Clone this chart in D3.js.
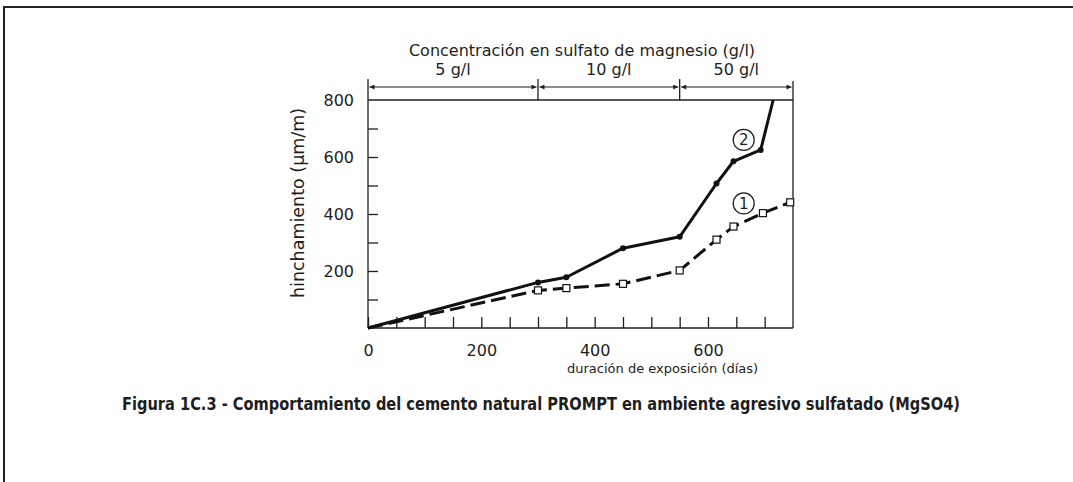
<!DOCTYPE html>
<html lang="es">
<head>
  <meta charset="UTF-8">
  <title>Figura 1C.3</title>
  <script src="https://cdn.jsdelivr.net/npm/d3@7/dist/d3.min.js"></script>
  <style>
    html, body { margin: 0; padding: 0; background: #fff; }
    svg { display: block; }
    text { font-family: "DejaVu Sans", sans-serif; fill: #1e1e1e; }
    .axis text { font-size: 16px; }
    .axis line, .axis path { stroke: #1e1e1e; stroke-width: 1.3; }
  </style>
</head>
<body>
  <svg width="1073" height="482"></svg>
  <script>
    // curve 2 (solid, dots) and curve 1 (dashed, open squares)
    const days2 = [0, 300, 350, 450, 550, 615, 645, 693, 715]
    const swell2 = [0, 160, 178, 280, 320, 507, 585, 625, 800]
    const days1 = [0, 300, 350, 450, 550, 615, 645, 697, 745]
    const swell1 = [0, 132, 140, 155, 202, 310, 356, 403, 441]

    // sulphate concentration stages along the day axis
    const stageBounds = [0, 300, 550, 750]
    const stageLabels = ['5 g/l', '10 g/l', '50 g/l']

    const xTicks = [0, 50, 100, 150, 200, 250, 300, 350, 400, 450, 500, 550, 600, 650, 700]
    const xLabels = [0, 200, 400, 600]
    const yTicks = [100, 200, 300, 400, 500, 600, 700]
    const yLabels = [200, 400, 600, 800]

    const svg = d3.select('svg')
    const plotLeft = 368, plotTop = 100, plotW = 425, plotH = 228

    const x = d3.scaleLinear().domain([0, 750]).range([plotLeft, plotLeft + plotW])
    const y = d3.scaleLinear().domain([0, 800]).range([plotTop + plotH, plotTop])

    // page frame
    svg.append('rect')
      .attr('x', 4).attr('y', 7).attr('width', 1200).attr('height', 600)
      .attr('fill', 'none').attr('stroke', '#222').attr('stroke-width', 2)

    // axes with inward ticks
    svg.append('g')
      .attr('class', 'axis')
      .attr('transform', `translate(0,${y(0)})`)
      .call(d3.axisBottom(x).tickValues(xTicks).tickSizeInner(-11).tickSizeOuter(0).tickPadding(17)
        .tickFormat(d => xLabels.includes(d) ? d : ''))
      .call(g => g.select('.domain').remove())

    svg.append('g')
      .attr('class', 'axis')
      .attr('transform', `translate(${x(0)},0)`)
      .call(d3.axisLeft(y).tickValues(yTicks.concat([800])).tickSizeInner(-10).tickSizeOuter(0).tickPadding(14)
        .tickFormat(d => yLabels.includes(d) ? d : ''))
      .call(g => g.select('.domain').remove())
      .call(g => g.selectAll('.tick').filter(d => d === 800).select('line').remove())

    const frame = svg.append('g').attr('stroke', '#1e1e1e').attr('stroke-width', 1.3)
    frame.append('line').attr('x1', x(0)).attr('x2', x(750)).attr('y1', y(0)).attr('y2', y(0))
    frame.append('line').attr('x1', x(0)).attr('x2', x(750)).attr('y1', y(800)).attr('y2', y(800))
    frame.append('line').attr('x1', x(0)).attr('x2', x(0)).attr('y1', 79).attr('y2', y(0))
    frame.append('line').attr('x1', x(750)).attr('x2', x(750)).attr('y1', 81).attr('y2', y(0))
    stageBounds.slice(1, -1).forEach(d => {
      frame.append('line').attr('x1', x(d)).attr('x2', x(d)).attr('y1', 79).attr('y2', y(800))
    })

    // concentration header with double arrows
    const arrowY = 87
    svg.append('defs').append('marker')
      .attr('id', 'ah').attr('viewBox', '0 0 10 10').attr('refX', 10).attr('refY', 5)
      .attr('markerWidth', 7).attr('markerHeight', 5).attr('markerUnits', 'userSpaceOnUse')
      .attr('orient', 'auto-start-reverse')
      .append('path').attr('d', 'M0,0L10,5L0,10z').attr('fill', '#1e1e1e')

    stageLabels.forEach((lab, i) => {
      const a = stageBounds[i], b = stageBounds[i + 1]
      svg.append('line')
        .attr('x1', x(a) + 1.5).attr('x2', x(b) - 1.5)
        .attr('y1', arrowY).attr('y2', arrowY)
        .attr('stroke', '#1e1e1e').attr('stroke-width', 1.2)
        .attr('marker-start', 'url(#ah)').attr('marker-end', 'url(#ah)')
      svg.append('text')
        .attr('x', x((a + b) / 2)).attr('y', 75)
        .attr('text-anchor', 'middle').attr('font-size', 16)
        .text(lab)
    })

    svg.append('text')
      .attr('x', 582).attr('y', 56)
      .attr('text-anchor', 'middle').attr('font-size', 16)
      .text('Concentración en sulfato de magnesio (g/l)')

    // curves
    const line = d3.line().x(d => x(d[0])).y(d => y(d[1]))
    const pts2 = d3.zip(days2, swell2)
    const pts1 = d3.zip(days1, swell1)

    svg.append('path').datum(pts2)
      .attr('d', line).attr('fill', 'none')
      .attr('stroke', '#111').attr('stroke-width', 3).attr('stroke-linejoin', 'round')

    svg.append('path').datum(pts1)
      .attr('d', line).attr('fill', 'none')
      .attr('stroke', '#111').attr('stroke-width', 3).attr('stroke-dasharray', '15,6')

    svg.selectAll('.dot').data(pts2.slice(1, -1)).enter()
      .append('circle').attr('class', 'dot')
      .attr('cx', d => x(d[0])).attr('cy', d => y(d[1])).attr('r', 3)
      .attr('fill', '#111')

    svg.selectAll('.sq').data(pts1.slice(1)).enter()
      .append('rect').attr('class', 'sq')
      .attr('x', d => x(d[0]) - 3.5).attr('y', d => y(d[1]) - 3.5)
      .attr('width', 7).attr('height', 7)
      .attr('fill', '#fff').attr('stroke', '#111').attr('stroke-width', 1.2)

    // circled curve numbers
    const tags = [{ n: '2', d: 663, v: 660 }, { n: '1', d: 663, v: 437 }]
    tags.forEach(t => {
      svg.append('circle').attr('cx', x(t.d)).attr('cy', y(t.v)).attr('r', 10.5)
        .attr('fill', '#fff').attr('stroke', '#1e1e1e').attr('stroke-width', 1.2)
      svg.append('text').attr('x', x(t.d)).attr('y', y(t.v)).attr('dy', '0.36em')
        .attr('text-anchor', 'middle').attr('font-size', 15).text(t.n)
    })

    // axis titles
    svg.append('text')
      .attr('transform', `translate(304,${(y(0) + y(800)) / 2 - 11}) rotate(-90)`)
      .attr('text-anchor', 'middle').attr('font-size', 17.5)
      .text('hinchamiento (µm/m)')

    svg.append('text')
      .attr('x', 567).attr('y', 373)
      .attr('font-size', 13)
      .text('duración de exposición (días)')

    // caption, stretched a little vertically like the condensed print face
    svg.append('text')
      .attr('transform', 'translate(122,410) scale(1,1.15)')
      .attr('font-family', '"DejaVu Sans Condensed", "DejaVu Sans", sans-serif')
      .attr('font-weight', 'bold').attr('font-size', 15.5)
      .attr('textLength', 838).attr('lengthAdjust', 'spacingAndGlyphs')
      .text('Figura 1C.3 - Comportamiento del cemento natural PROMPT en ambiente agresivo sulfatado (MgSO4)')
  </script>
</body>
</html>
